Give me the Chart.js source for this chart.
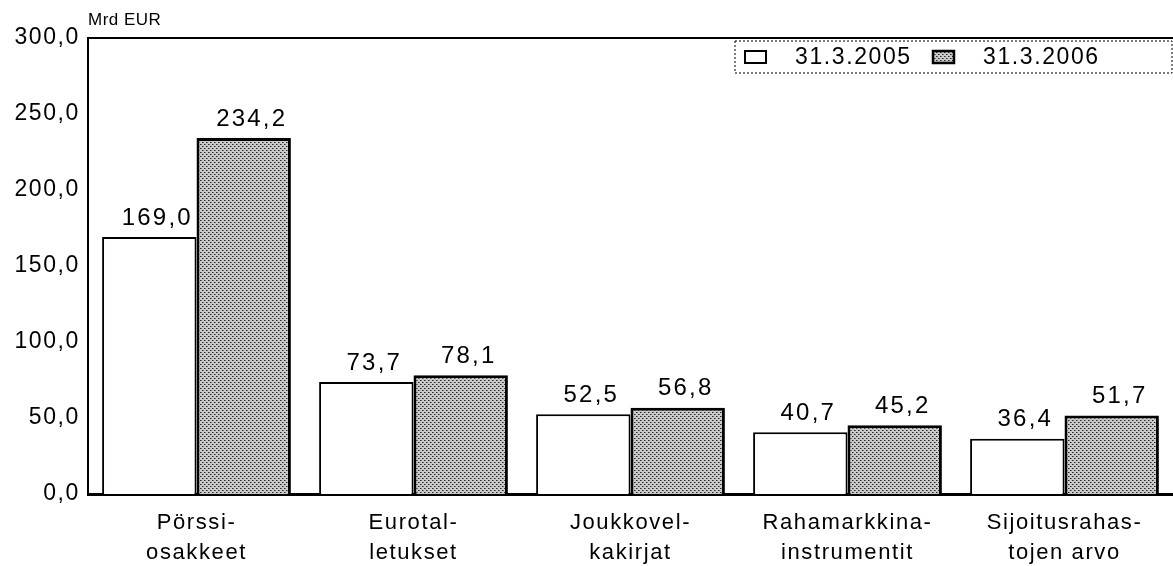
<!DOCTYPE html>
<html>
<head>
<meta charset="utf-8">
<script src="https://cdn.jsdelivr.net/npm/chart.js@4/dist/chart.umd.min.js"></script>
<style>
  body { margin: 0; background: #fff; }
  #wrap { width: 1173px; height: 566px; }
</style>
</head>
<body>
<div id="wrap"><canvas id="bar-chart"></canvas></div>
<script>
var categories = [["Pörssi-", "osakkeet"], ["Eurotal-", "letukset"], ["Joukkovel-", "kakirjat"], ["Rahamarkkina-", "instrumentit"], ["Sijoitusrahas-", "tojen arvo"]];
var series2005 = [169.0, 73.7, 52.5, 40.7, 36.4];
var series2006 = [234.2, 78.1, 56.8, 45.2, 51.7];
var seriesNames = ["31.3.2005", "31.3.2006"];

// stippled grey fill like the print
function dotPattern() {
  var c = document.createElement("canvas");
  c.width = 4; c.height = 4;
  var g = c.getContext("2d");
  g.fillStyle = "#cacaca";
  g.fillRect(0, 0, 4, 4);
  g.fillStyle = "#2a2a2a";
  g.fillRect(0, 0, 1, 1);
  g.fillRect(2, 2, 1, 1);
  g.fillStyle = "#707070";
  g.fillRect(1, 0, 1, 1);
  g.fillRect(3, 2, 1, 1);
  return document.getElementById("bar-chart").getContext("2d").createPattern(c, "repeat");
}
var grey = dotPattern();
var FONT = "'Liberation Sans', Arial, sans-serif";

function fmt(v) { return v.toFixed(1).replace(".", ","); }

// the print has wide letter spacing
var spacing = {
  id: "spacing",
  beforeLayout: function(chart) { chart.ctx.letterSpacing = "1.6px"; },
  beforeDraw: function(chart) { chart.ctx.letterSpacing = "1.6px"; }
};

var extras = {
  id: "extras",
  afterDraw: function(chart) {
    var ctx = chart.ctx, a = chart.chartArea;
    ctx.save();
    // top frame line
    ctx.strokeStyle = "#000";
    ctx.lineWidth = 2;
    ctx.beginPath();
    ctx.moveTo(a.left, a.top);
    ctx.lineTo(chart.width, a.top);
    ctx.stroke();
    // unit
    ctx.fillStyle = "#000";
    ctx.letterSpacing = "0.5px";
    ctx.font = "17px " + FONT;
    ctx.textAlign = "left";
    ctx.textBaseline = "alphabetic";
    ctx.fillText("Mrd EUR", a.left, a.top - 13);
    // value labels
    ctx.letterSpacing = "2.2px";
    ctx.font = "24px " + FONT;
    ctx.textAlign = "center";
    ctx.textBaseline = "bottom";
    chart.data.datasets.forEach(function(ds, i) {
      chart.getDatasetMeta(i).data.forEach(function(bar, j) {
        ctx.fillText(fmt(ds.data[j]), bar.x + 8, bar.y - 7);
      });
    });
    // legend
    var lx = 735, ly = 41, lw = chart.width - lx - 1, lh = 32;
    ctx.letterSpacing = "0px";
    ctx.setLineDash([2, 2]);
    ctx.lineWidth = 1;
    ctx.strokeRect(lx, ly, lw, lh);
    ctx.setLineDash([]);
    ctx.letterSpacing = "1.6px";
    ctx.font = "23px " + FONT;
    ctx.textAlign = "left";
    ctx.textBaseline = "middle";
    var items = [{x: 745, fill: "#fff", w: 2}, {x: 933, fill: grey, w: 2.5}];
    items.forEach(function(it, i) {
      ctx.fillStyle = it.fill;
      ctx.fillRect(it.x, ly + 10, 21, 12);
      ctx.lineWidth = it.w;
      ctx.strokeRect(it.x, ly + 10, 21, 12);
      ctx.fillStyle = "#000";
      ctx.fillText(seriesNames[i], it.x + 50, ly + lh / 2 + 1);
    });
    ctx.restore();
  }
};

new Chart(document.getElementById("bar-chart"), {
  type: "bar",
  data: {
    labels: categories,
    datasets: [{
      label: seriesNames[0],
      data: series2005,
      backgroundColor: "#fff",
      borderColor: "#000",
      borderWidth: 2,
      borderSkipped: "bottom"
    }, {
      label: seriesNames[1],
      data: series2006,
      backgroundColor: grey,
      borderColor: "#000",
      borderWidth: 3,
      borderSkipped: "bottom"
    }]
  },
  plugins: [spacing, extras],
  options: {
    responsive: true,
    maintainAspectRatio: false,
    animation: false,
    datasets: { bar: { categoryPercentage: 0.87, barPercentage: 1.0 } },
    layout: { padding: { left: 0, right: 0, top: 38, bottom: 0 } },
    plugins: { legend: { display: false }, tooltip: { enabled: false } },
    scales: {
      x: {
        grid: { display: false, drawTicks: false },
        border: { color: "#000", width: 3 },
        afterFit: function(s) { s.height = 72; },
        ticks: { color: "#000", font: { family: FONT, size: 22, lineHeight: 1.35 }, padding: 14, maxRotation: 0, autoSkip: false }
      },
      y: {
        min: 0, max: 300,
        grid: { display: false, drawTicks: false },
        border: { color: "#000", width: 2 },
        afterFit: function(s) { s.width = 88; },
        ticks: {
          stepSize: 50, color: "#000", padding: 8,
          font: { family: FONT, size: 23 },
          callback: function(v) { return fmt(v); }
        }
      }
    }
  }
});
</script>
</body>
</html>
